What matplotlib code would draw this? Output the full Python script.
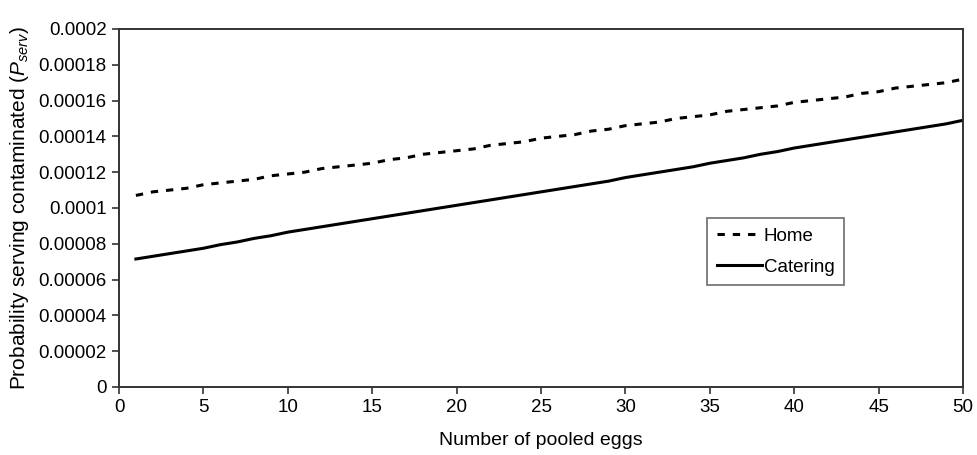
import numpy as np
import matplotlib
matplotlib.use("Agg")
import matplotlib.pyplot as plt

plt.rcParams['font.family'] = ['Liberation Sans', 'DejaVu Sans']
plt.rcParams['mathtext.fontset'] = 'custom'
plt.rcParams['mathtext.rm'] = 'Liberation Sans'
plt.rcParams['mathtext.it'] = 'Liberation Sans:italic'

# Number of pooled eggs
eggs = np.arange(1, 51)

# Probability serving contaminated (x 1e-6)
home = [107, 109, 110, 111, 113, 114, 115, 116, 118, 119,
        120, 122, 123, 124, 125, 127, 128, 130, 131, 132,
        133, 135, 136, 137, 139, 140, 141, 143, 144, 146,
        147, 148, 150, 151, 152, 154, 155, 156, 157, 159,
        160, 161, 162, 164, 165, 167, 168, 169, 170, 172]
catering = [71.5, 73, 74.5, 76, 77.5, 79.5, 81, 83, 84.5, 86.5,
            88, 89.5, 91, 92.5, 94, 95.5, 97, 98.5, 100, 101.5,
            103, 104.5, 106, 107.5, 109, 110.5, 112, 113.5, 115, 117,
            118.5, 120, 121.5, 123, 125, 126.5, 128, 130, 131.5, 133.5,
            135, 136.5, 138, 139.5, 141, 142.5, 144, 145.5, 147, 149]

home = np.array(home) * 1e-6
catering = np.array(catering) * 1e-6

y_ticks = [0, 0.00002, 0.00004, 0.00006, 0.00008, 0.0001,
           0.00012, 0.00014, 0.00016, 0.00018, 0.0002]
y_labels = ["0", "0.00002", "0.00004", "0.00006", "0.00008", "0.0001",
            "0.00012", "0.00014", "0.00016", "0.00018", "0.0002"]
x_ticks = list(range(0, 51, 5))

fig = plt.figure(figsize=(9.78, 4.55), dpi=100)
ax = fig.add_axes([0.1217, 0.1495, 0.8630, 0.7868])

ax.plot(eggs, home, color='black', lw=2.2, linestyle=(0, (2.4, 2.6)), label='Home')
ax.plot(eggs, catering, color='black', lw=2.2, label='Catering')

ax.set_xlim(0, 50)
ax.set_ylim(0, 0.0002)
ax.set_xticks(x_ticks)
ax.set_xticklabels([str(t) for t in x_ticks])
ax.set_yticks(y_ticks)
ax.set_yticklabels(y_labels)
ax.tick_params(direction='out', length=5, width=1.2, colors='#333333',
               labelcolor='black', labelsize=13.5, pad=4)

for s in ax.spines.values():
    s.set_linewidth(1.4)
    s.set_color('#333333')

ax.set_xlabel("Number of pooled eggs", fontsize=14, labelpad=11)
ax.set_ylabel(r"Probability serving contaminated ($P_{serv}$)", fontsize=15, labelpad=5)

leg = ax.legend(loc='upper left', bbox_to_anchor=(0.697, 0.472), fontsize=13.5,
                handlelength=2.4, handletextpad=0.1, borderpad=0.5,
                labelspacing=0.75, borderaxespad=0, fancybox=False,
                shadow=False, frameon=True)
leg.get_frame().set_edgecolor('#555555')
leg.get_frame().set_linewidth(1.3)

fig.savefig("out.png", dpi=100)
